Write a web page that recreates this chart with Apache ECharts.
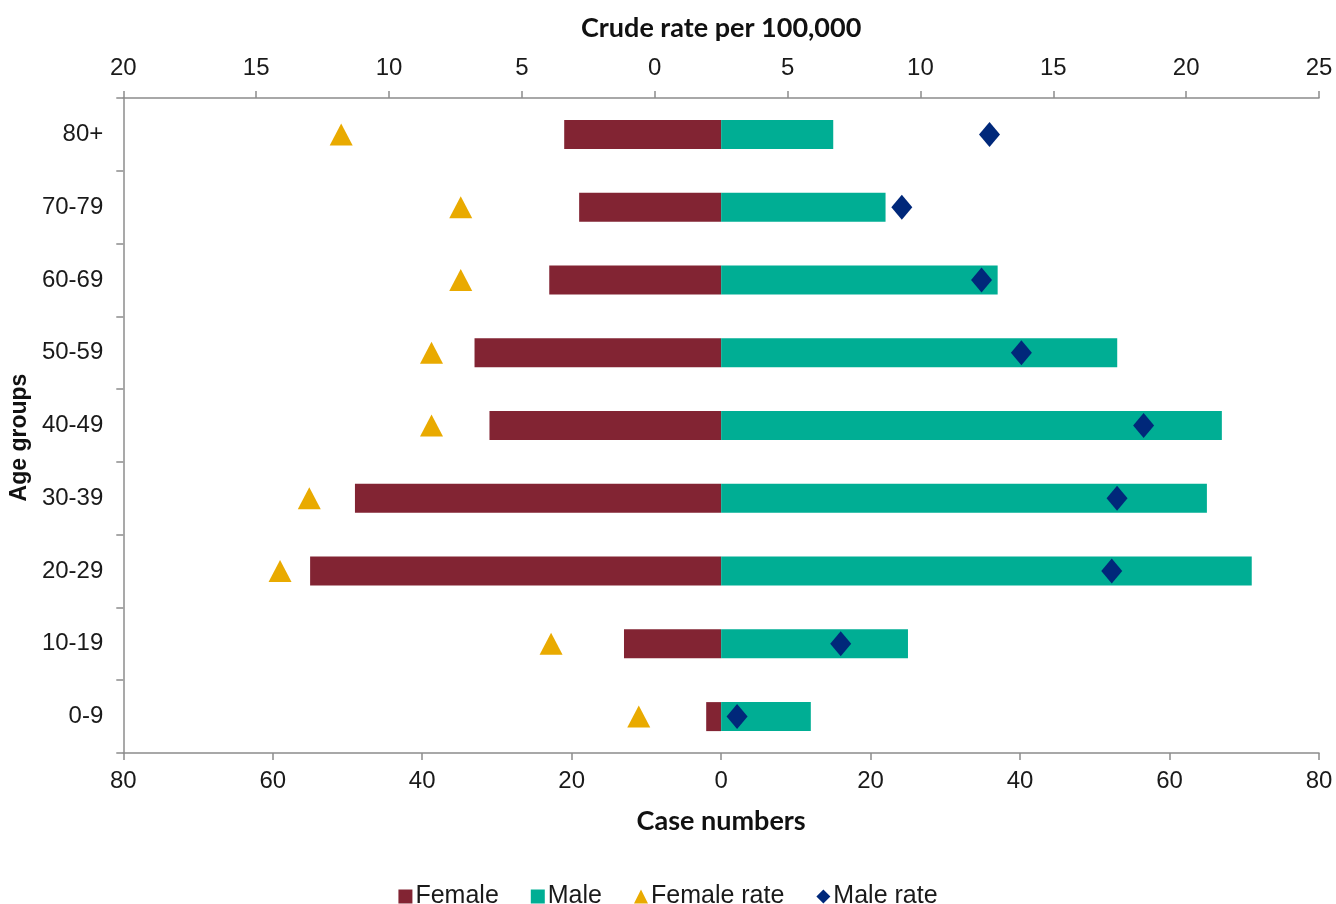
<!DOCTYPE html>
<html>
<head>
<meta charset="utf-8">
<script src="https://cdn.jsdelivr.net/npm/echarts@6/dist/echarts.min.js"></script>
<style>
  html, body { margin: 0; padding: 0; background: #fff; }
  #chart { width: 1336px; height: 904px; }
</style>
</head>
<body>
<div id="chart"></div>
<script>
// Age groups, youngest at the bottom
const ageGroups = ['0-9', '10-19', '20-29', '30-39', '40-49', '50-59', '60-69', '70-79', '80+'];

// Case numbers by sex
const femaleCases = [2, 13, 55, 49, 31, 33, 23, 19, 21];
const maleCases = [12, 25, 71, 65, 67, 53, 37, 22, 15];

// Crude rate per 100,000 by sex
const femaleRate = [0.6, 3.9, 14.1, 13.0, 8.4, 8.4, 7.3, 7.3, 11.8];
const maleRate = [3.1, 7.0, 17.2, 17.4, 18.4, 13.8, 12.3, 9.3, 12.6];

// Axis ranges and tick steps
const caseAxis = { min: -80, max: 80, step: 20 };
const rateAxis = { min: -20, max: 25, step: 5 };

const COLORS = {
  female: '#822433',
  male: '#00AE94',
  femaleRate: '#E9AA00',
  maleRate: '#00287A',
  axis: '#8c8c8c',
  text: '#1a1a1a'
};

const tickFont = {
  fontFamily: '"Liberation Sans", Arial, sans-serif',
  fontSize: 24,
  color: COLORS.text
};
const titleFont = {
  fontFamily: 'Lato, "Open Sans", sans-serif',
  fontWeight: 'bold',
  fontSize: 27,
  color: '#111'
};
const absLabel = v => String(Math.abs(v));
const axisLine = { show: true, onZero: false, lineStyle: { color: COLORS.axis, width: 1.5 } };
const axisTick = { show: true, length: 7, lineStyle: { color: COLORS.axis, width: 1.5 } };

const chart = echarts.init(document.getElementById('chart'), null, { renderer: 'canvas' });

chart.setOption({
  animation: false,
  backgroundColor: '#fff',
  grid: { left: 121, right: 17, top: 98, bottom: 151, containLabel: false },
  legend: {
    top: 879,
    left: 'center',
    itemWidth: 14,
    itemHeight: 14,
    itemGap: 32,
    textStyle: {
      fontFamily: '"Liberation Sans", Arial, sans-serif',
      fontSize: 25,
      color: COLORS.text,
      padding: [0, 0, 0, -2]
    },
    data: [
      { name: 'Female', icon: 'rect' },
      { name: 'Male', icon: 'rect' },
      { name: 'Female rate', icon: 'triangle' },
      { name: 'Male rate', icon: 'diamond' }
    ]
  },
  xAxis: [
    {
      type: 'value',
      position: 'bottom',
      min: caseAxis.min,
      max: caseAxis.max,
      interval: caseAxis.step,
      name: 'Case numbers',
      nameLocation: 'middle',
      nameGap: 55,
      nameTextStyle: titleFont,
      axisLine: axisLine,
      axisTick: axisTick,
      axisLabel: Object.assign({ formatter: absLabel, margin: 16 }, tickFont),
      splitLine: { show: false }
    },
    {
      type: 'value',
      position: 'top',
      min: rateAxis.min,
      max: rateAxis.max,
      interval: rateAxis.step,
      name: 'Crude rate per 100,000',
      nameLocation: 'middle',
      nameGap: 56,
      nameTextStyle: titleFont,
      axisLine: axisLine,
      axisTick: axisTick,
      axisLabel: Object.assign({ formatter: absLabel, margin: 18 }, tickFont),
      splitLine: { show: false }
    }
  ],
  yAxis: {
    type: 'category',
    data: ageGroups,
    name: 'Age groups',
    nameLocation: 'middle',
    nameGap: 92,
    nameRotate: 90,
    nameTextStyle: {
      fontFamily: '"Liberation Sans", Arial, sans-serif',
      fontWeight: 'bold',
      fontSize: 23,
      color: '#111',
      padding: [0, 24, 0, 0]
    },
    axisLine: axisLine,
    axisTick: axisTick,
    axisLabel: Object.assign({ margin: 20 }, tickFont)
  },
  series: [
    {
      name: 'Female',
      type: 'bar',
      stack: 'cases',
      xAxisIndex: 0,
      barWidth: 29,
      itemStyle: { color: COLORS.female },
      data: femaleCases.map(v => -v)
    },
    {
      name: 'Male',
      type: 'bar',
      stack: 'cases',
      xAxisIndex: 0,
      barWidth: 29,
      itemStyle: { color: COLORS.male },
      data: maleCases
    },
    {
      name: 'Female rate',
      type: 'scatter',
      xAxisIndex: 1,
      symbol: 'triangle',
      symbolSize: [23, 22],
      itemStyle: { color: COLORS.femaleRate, opacity: 1 },
      data: femaleRate.map((v, i) => [-v, ageGroups[i]]),
      z: 5
    },
    {
      name: 'Male rate',
      type: 'scatter',
      xAxisIndex: 1,
      symbol: 'diamond',
      symbolSize: [21, 25],
      itemStyle: { color: COLORS.maleRate, opacity: 1 },
      data: maleRate.map((v, i) => [v, ageGroups[i]]),
      z: 5
    }
  ]
});
</script>
</body>
</html>
